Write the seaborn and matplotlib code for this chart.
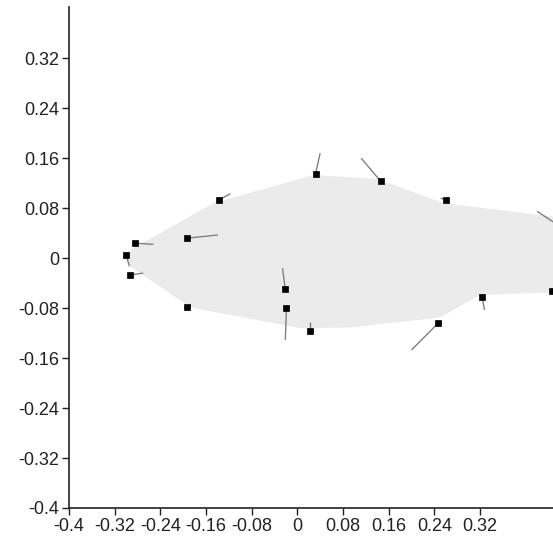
import numpy as np
import pandas as pd
import matplotlib
matplotlib.use("Agg")
import matplotlib.pyplot as plt
from matplotlib.collections import LineCollection
import seaborn as sns

# Landmark positions
lm_x = [-0.300, -0.293, -0.284, -0.193, -0.193, -0.138, 0.032, 0.146, 0.261, 0.447, 0.455, 0.324, 0.247, 0.023, -0.021, -0.019]
lm_y = [0.005, -0.027, 0.024, 0.032, -0.079, 0.093, 0.135, 0.123, 0.093, -0.053, 0.054, -0.063, -0.104, -0.117, -0.050, -0.080]
# Deformation vector end points
vec_x = [-0.294, -0.270, -0.252, -0.139, -0.187, -0.117, 0.040, 0.112, 0.251, 0.448, 0.420, 0.328, 0.200, 0.023, -0.026, -0.021]
vec_y = [-0.013, -0.024, 0.022, 0.037, -0.074, 0.103, 0.168, 0.160, 0.096, -0.048, 0.075, -0.083, -0.147, -0.103, -0.016, -0.131]
# Outline (mean shape) polygon
outline_x = [-0.303, -0.291, -0.147, 0.028, 0.140, 0.256, 0.443, 0.470, 0.470, 0.320, 0.250, 0.093, 0.005, -0.187, -0.296]
outline_y = [0.002, 0.014, 0.088, 0.133, 0.127, 0.088, 0.067, 0.064, -0.054, -0.059, -0.095, -0.111, -0.112, -0.079, -0.011]

ticks = [-0.4, -0.32, -0.24, -0.16, -0.08, 0, 0.08, 0.16, 0.24, 0.32]
tick_labels = ["-0.4", "-0.32", "-0.24", "-0.16", "-0.08", "0", "0.08", "0.16", "0.24", "0.32"]

sns.set_style("ticks")
plt.rcParams["font.family"] = ["Liberation Sans", "DejaVu Sans"]

fig = plt.figure(figsize=(5.53, 5.50), dpi=100)
ax = fig.add_axes([69 / 553, 42 / 550, (553 - 69) / 553, (508 - 7) / 550])

ax.fill(outline_x, outline_y, color="#ebebeb", lw=0, zorder=1)

segs = [[(x0, y0), (x1, y1)] for x0, y0, x1, y1 in zip(lm_x, lm_y, vec_x, vec_y)]
ax.add_collection(LineCollection(segs, colors="#808080", linewidths=1.0, zorder=2))

df = pd.DataFrame({"x": lm_x, "y": lm_y})
sns.scatterplot(data=df, x="x", y="y", marker="s", s=15, color="black",
                edgecolor="black", linewidth=0.5, ax=ax, zorder=3, legend=False)

ax.set_xlim(-0.4, 0.448)
ax.set_ylim(-0.4, 0.402)
ax.set_xticks(ticks)
ax.set_xticklabels(tick_labels)
ax.set_yticks(ticks)
ax.set_yticklabels(tick_labels)
ax.set_xlabel("")
ax.set_ylabel("")
for s in ["top", "right"]:
    ax.spines[s].set_visible(False)
for s in ["left", "bottom"]:
    ax.spines[s].set_color("#222222")
    ax.spines[s].set_linewidth(1.2)
ax.tick_params(axis="both", direction="out", length=5, width=1.0, color="#222222",
               labelsize=13, labelcolor="#222222", pad=2)

fig.savefig("out.png", dpi=100)
